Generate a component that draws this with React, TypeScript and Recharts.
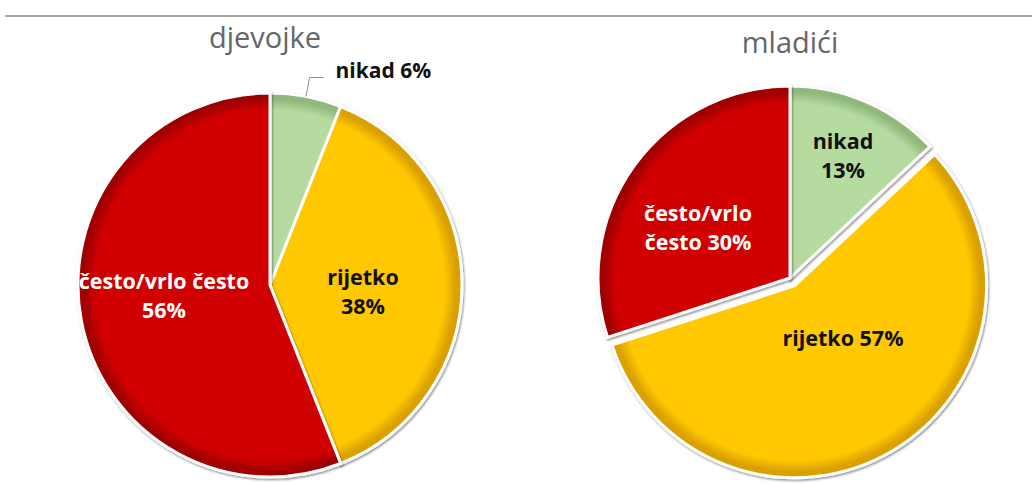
import { PieChart, Pie, Cell } from "recharts";

// answer categories, in clockwise order from 12 o'clock
const categories = ["nikad", "rijetko", "često/vrlo često"];
const girlsValues = [6, 38, 56];
const boysValues = [13, 57, 30];
const chartTitles = ["djevojke", "mladići"];

// label lines as printed on the chart
const girlsLabels = [["nikad 6%"], ["rijetko", "38%"], ["često/vrlo često", "56%"]];
const boysLabels = [["nikad", "13%"], ["rijetko 57%"], ["često/vrlo", "često 30%"]];

const COLORS = ["#B5DBA1", "#FFC800", "#D00000"];
const DARK = ["#8FB87A", "#D9A000", "#A00000"];
const TEXT = ["#111", "#111", "#fff"];

const W = 1032;
const H = 484;
const R = 192;
const FONT = "'Open Sans', 'Noto Sans', sans-serif";

// label placement, as fractions of the radius from the pie centre
const girlsLabelPos = [
  [0, 0],
  [0.484, 0.029],
  [-0.552, 0.047],
];
const boysLabelPos = [
  [0.276, -0.641],
  [0.276, 0.307],
  [-0.479, -0.266],
];

const RAD = Math.PI / 180;

function makeData(values: number[]) {
  return categories.map((name, i) => ({ name, value: values[i] }));
}

function gradients(prefix: string, cx: number, cy: number) {
  return COLORS.map((c, i) => (
    <radialGradient
      key={prefix + i}
      id={prefix + i}
      gradientUnits="userSpaceOnUse"
      cx={cx}
      cy={cy}
      r={R}
    >
      <stop offset="0%" stopColor={c} />
      <stop offset="91%" stopColor={c} />
      <stop offset="97%" stopColor={DARK[i]} />
      <stop offset="100%" stopColor={DARK[i]} />
    </radialGradient>
  ));
}

function makeLabel(lines: string[][], pos: number[][], leaderIndex: number) {
  return (props: any) => {
    const { cx, cy, outerRadius, midAngle, index } = props;
    const txt = lines[index];
    const lh = 29;
    if (index === leaderIndex) {
      const sx = cx + outerRadius * Math.cos(-midAngle * RAD);
      const sy = cy + outerRadius * Math.sin(-midAngle * RAD);
      const ex = cx + outerRadius * 1.1 * Math.cos(-midAngle * RAD);
      const ey = cy + outerRadius * 1.1 * Math.sin(-midAngle * RAD);
      return (
        <g>
          <polyline
            points={`${sx},${sy} ${ex},${ey} ${ex + 14},${ey}`}
            fill="none"
            stroke="#8c8c8c"
            strokeWidth={1}
          />
          <text
            x={ex + 26}
            y={ey - 8}
            textAnchor="start"
            dominantBaseline="central"
            fontFamily={FONT}
            fontWeight={700}
            fontSize={21}
            fill="#111"
          >
            {txt[0]}
          </text>
        </g>
      );
    }
    const x = cx + pos[index][0] * outerRadius;
    const y = cy + pos[index][1] * outerRadius;
    const y0 = y - ((txt.length - 1) * lh) / 2;
    return (
      <text
        textAnchor="middle"
        dominantBaseline="central"
        fontFamily={FONT}
        fontWeight={700}
        fontSize={21.5}
        fill={TEXT[index]}
      >
        {txt.map((t, k) => (
          <tspan key={k} x={x} y={y0 + k * lh}>
            {t}
          </tspan>
        ))}
      </text>
    );
  };
}

export default function App() {
  const girls = makeData(girlsValues);
  const boys = makeData(boysValues);

  // left pie
  const gx = 270;
  const gy = 285;
  // right pie, with the "rijetko" slice pulled out
  const bx = 790;
  const by = 278;
  const explodeIdx = 1;
  const explode = 9;
  const total = boysValues.reduce((a, b) => a + b, 0);
  const before = boysValues.slice(0, explodeIdx).reduce((a, b) => a + b, 0);
  const mid = ((before + boysValues[explodeIdx] / 2) / total) * 360 * RAD;
  const ex = bx + explode * Math.sin(mid);
  const ey = by - explode * Math.cos(mid);

  return (
    <div
      style={{
        position: "absolute",
        left: 0,
        top: 0,
        width: W,
        height: H,
        background: "#fff",
        overflow: "hidden",
      }}
    >
      <div
        style={{
          position: "absolute",
          left: 5,
          top: 15,
          width: W - 5,
          height: 2,
          background: "#A6A6A6",
        }}
      />
      {chartTitles.map((t, i) => (
        <div
          key={t}
          style={{
            position: "absolute",
            left: i === 0 ? gx - 155 : bx - 150,
            width: 300,
            top: i === 0 ? 17 : 22,
            textAlign: "center",
            fontFamily: FONT,
            fontSize: 29,
            color: "#666",
            lineHeight: "40px",
          }}
        >
          {t}
        </div>
      ))}
      <PieChart
        width={W}
        height={H}
        margin={{ top: 0, right: 0, bottom: 0, left: 0 }}
        style={{ position: "absolute", left: 0, top: 0 }}
      >
        <defs>
          {gradients("g", gx, gy)}
          {gradients("b", bx, by)}
          {gradients("e", ex, ey)}
          <filter id="sh" x="-10%" y="-10%" width="120%" height="120%">
            <feDropShadow dx="1" dy="1.5" stdDeviation="1.2" floodColor="#000" floodOpacity="0.45" />
          </filter>
        </defs>
        <Pie
          data={girls}
          dataKey="value"
          nameKey="name"
          cx={gx}
          cy={gy}
          outerRadius={R}
          startAngle={90}
          endAngle={-270}
          stroke="#fff"
          strokeWidth={3}
          labelLine={false}
          label={makeLabel(girlsLabels, girlsLabelPos, 0)}
          isAnimationActive={false}
        >
          {girls.map((d, i) => (
            <Cell key={d.name} fill={`url(#g${i})`} filter="url(#sh)" />
          ))}
        </Pie>
        <Pie
          data={boys}
          dataKey="value"
          nameKey="name"
          cx={ex}
          cy={ey}
          outerRadius={R}
          startAngle={90}
          endAngle={-270}
          stroke="none"
          labelLine={false}
          label={false}
          isAnimationActive={false}
        >
          {boys.map((d, i) => (
            <Cell
              key={d.name}
              fill={i === explodeIdx ? `url(#e${i})` : "none"}
              stroke={i === explodeIdx ? "#fff" : "none"}
              strokeWidth={3}
              filter={i === explodeIdx ? "url(#sh)" : undefined}
            />
          ))}
        </Pie>
        <Pie
          data={boys}
          dataKey="value"
          nameKey="name"
          cx={bx}
          cy={by}
          outerRadius={R}
          startAngle={90}
          endAngle={-270}
          stroke="#fff"
          strokeWidth={3}
          labelLine={false}
          label={makeLabel(boysLabels, boysLabelPos, -1)}
          isAnimationActive={false}
        >
          {boys.map((d, i) => (
            <Cell
              key={d.name}
              fill={i === explodeIdx ? "none" : `url(#b${i})`}
              stroke={i === explodeIdx ? "none" : "#fff"}
              filter={i === explodeIdx ? undefined : "url(#sh)"}
            />
          ))}
        </Pie>
      </PieChart>
    </div>
  );
}
